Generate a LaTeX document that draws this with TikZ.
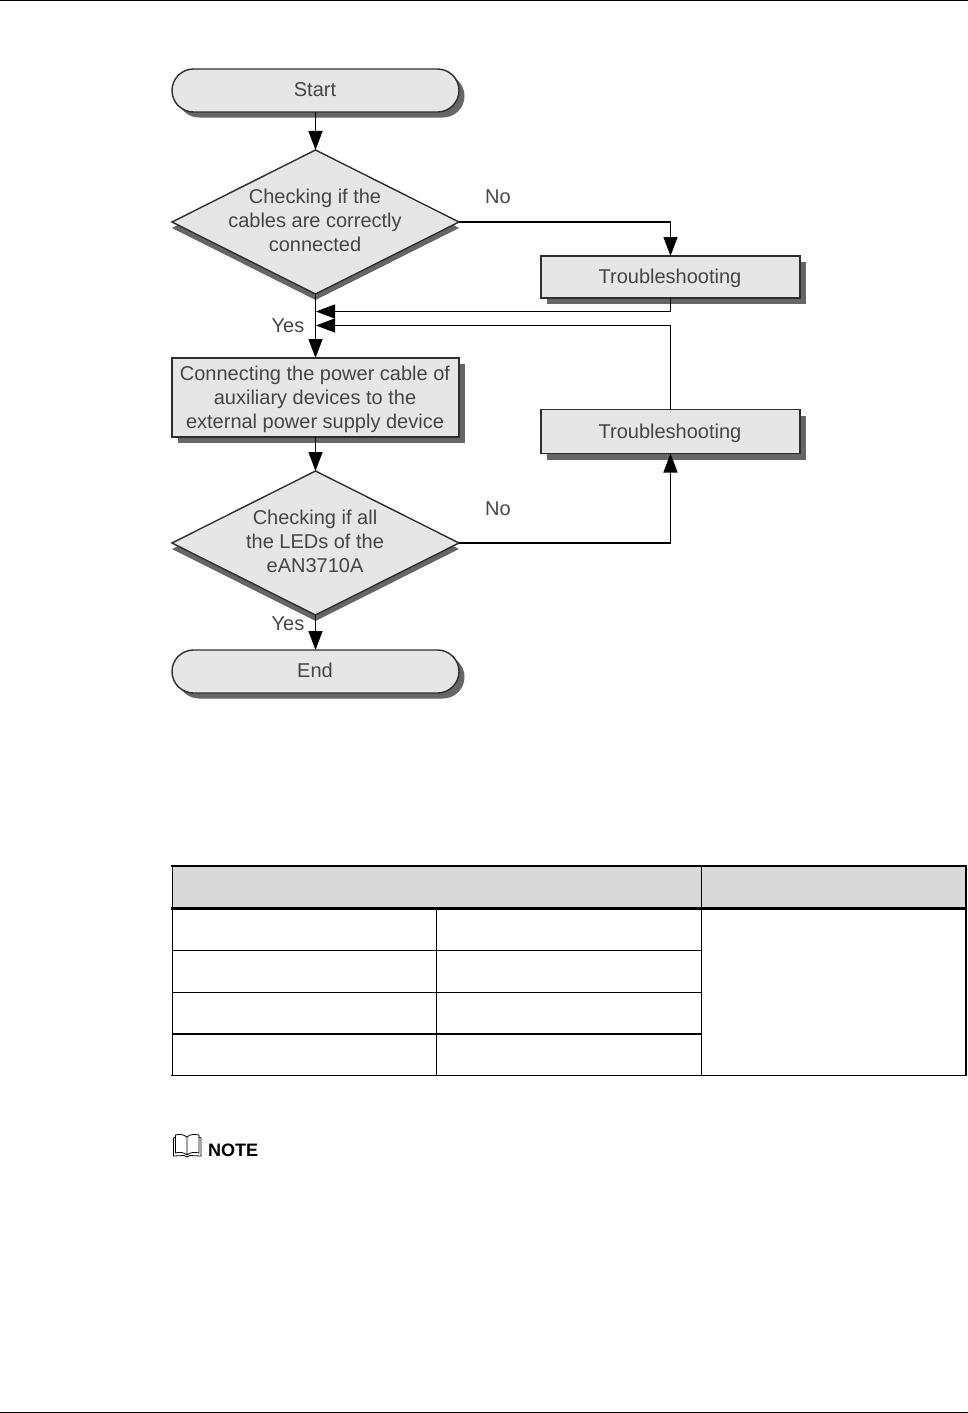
\documentclass[tikz,border=0pt]{standalone}
\usepackage{fontspec}
\setmainfont{Liberation Sans}
\usetikzlibrary{shapes.geometric,shapes.misc,shadows,arrows.meta}
\definecolor{boxfill}{HTML}{E6E6E6}
\definecolor{boxline}{HTML}{2E2E2E}
\definecolor{shadowc}{HTML}{666666}
\definecolor{textc}{HTML}{454545}
\definecolor{headc}{HTML}{D9D9D9}
\tikzset{
  x=1pt,y=-1pt,
  base/.style={draw=boxline,line width=1.4pt,fill=boxfill,inner sep=0pt,outer sep=0pt,align=center,text=textc,font=\fontsize{20}{24}\selectfont},
  term/.style={base,rounded rectangle,minimum width=287pt,minimum height=43pt,drop shadow={shadow xshift=5.5pt,shadow yshift=-5.5pt,fill=shadowc,opacity=1}},
  proc/.style={base,rectangle,drop shadow={shadow xshift=6pt,shadow yshift=-6pt,fill=shadowc,opacity=1}},
  deci/.style={base,diamond,aspect=2,minimum width=287pt,minimum height=144pt,drop shadow={shadow xshift=0pt,shadow yshift=-6pt,fill=shadowc,opacity=1}},
  txt/.style={inner sep=0pt,align=center,text=textc,font=\fontsize{20}{24}\selectfont},
  flow/.style={draw=black,line width=1.4pt,-{Triangle[length=19pt,width=14pt]}},
  tline/.style={draw=black,line width=1.4pt},
  tthick/.style={draw=black,line width=2.4pt},
}
\begin{document}
\begin{tikzpicture}
\useasboundingbox (0,0) rectangle (968,1413);
% page rules
\coordinate (tl) at (0,0.5); \coordinate (tr) at (968,0.5);
\coordinate (bl) at (0,1412); \coordinate (br) at (968,1412);
\draw[black,line width=1pt] (tl) -- (tr);
\draw[black,line width=1pt] (bl) -- (br);
% flowchart
\node[term] (start) at (315.5,90.5) {};
\node[txt] (startt) at (315,89.5) {Start};
\node[deci] (d1) at (315.5,222) {};
\node[txt] (d1t) at (315,220.5) {Checking if the\\cables are correctly\\connected};
\node[proc,minimum width=259pt,minimum height=42pt] (t1) at (670.5,277) {};
\node[txt] (t1t) at (670,278) {Troubleshooting};
\node[proc,minimum width=287pt,minimum height=79pt] (conn) at (315.5,397.5) {};
\node[txt] (connt) at (315,399) {Connecting the power cable of\\auxiliary devices to the\\external power supply device};
\node[proc,minimum width=259pt,minimum height=44pt] (t2) at (670.5,431.5) {};
\node[txt] (t2t) at (670,433) {Troubleshooting};
\node[deci] (d2) at (315.5,543) {};
\node[txt] (d2t) at (315,541.5) {Checking if all\\the LEDs of the\\eAN3710A};
\node[term] (end) at (315.5,671.5) {};
\node[txt] (endt) at (315,670.5) {End};
\coordinate (m1) at (316,311.5);
\coordinate (m2) at (316,325.5);
\draw[flow] (start) -- (d1);
\draw[flow] (d1) -- (conn);
\draw[flow] (conn) -- (d2);
\draw[flow] (d2) -- (end);
\draw[flow] (d1.east) -| (t1.north);
\draw[flow] (t1.south) |- (m1);
\draw[flow] (t2.north) |- (m2);
\draw[flow] (d2.east) -| (t2.south);
\node[txt] (no1) at (498,197) {No};
\node[txt] (yes1) at (288,325.5) {Yes};
\node[txt] (no2) at (498,509) {No};
\node[txt] (yes2) at (288,624) {Yes};
% table
\fill[headc] (172,866) rectangle (966,908);
\draw[tthick] (171,866) -- (967,866);
\draw[tthick] (171,908.5) -- (967,908.5);
\draw[tline] (172,950.5) -- (701,950.5);
\draw[tline] (172,992.5) -- (701,992.5);
\draw[tthick] (172,1034) -- (701,1034);
\draw[tline] (171,1075.5) -- (967,1075.5);
\draw[tline] (172.5,866) -- (172.5,1075);
\draw[tline] (436.5,908) -- (436.5,1075);
\draw[tline] (701.5,866) -- (701.5,1075);
\draw[tthick] (966,866) -- (966,1075);
% note icon
\draw[black,line width=0.8pt,line join=round]
  (187,1137) .. controls (183,1134) and (178,1134) .. (175.5,1135)
  -- (175.5,1153) .. controls (179,1152) and (184,1152) .. (187,1155)
  .. controls (190,1152) and (195,1152) .. (199,1153)
  -- (199,1135) .. controls (195,1134) and (190,1134) .. (187,1137) -- (187,1155);
\draw[black,line width=0.8pt,line join=round]
  (175.5,1137) -- (173.5,1138) -- (173.5,1156) -- (184,1155.5) -- (187,1157) -- (190,1155.5) -- (201,1156) -- (201,1138) -- (199,1137);
\node[inner sep=0pt,anchor=west,text=black,font=\bfseries\fontsize{18}{20}\selectfont] (note) at (208,1150) {NOTE};
\end{tikzpicture}
\end{document}
